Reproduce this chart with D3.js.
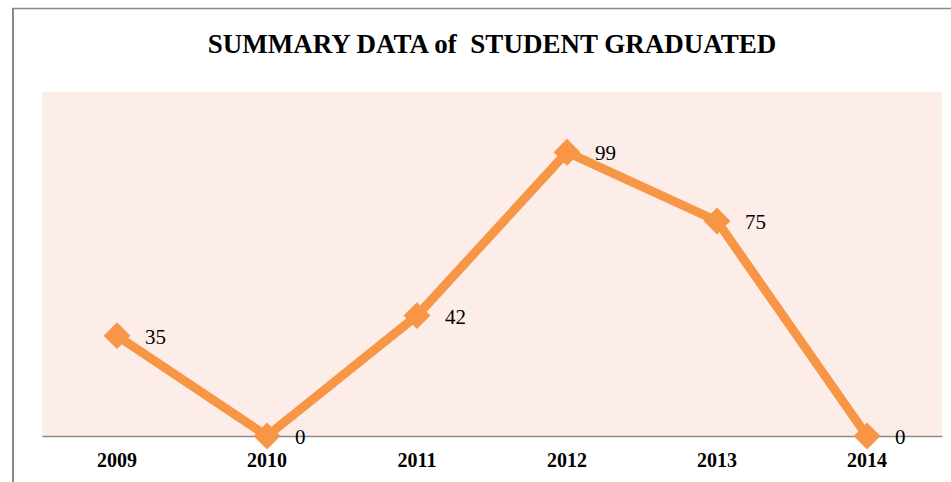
<!DOCTYPE html>
<html>
<head>
<meta charset="utf-8">
<script src="https://cdn.jsdelivr.net/npm/d3@7"></script>
<style>
  body { margin: 0; background: #fff; }
  svg { display: block; }
</style>
</head>
<body>
<svg id="chart" width="951" height="482"></svg>
<script>
const years = ["2009", "2010", "2011", "2012", "2013", "2014"];
const graduated = [35, 0, 42, 99, 75, 0];
const yMax = 120;

const W = 951, H = 482;
const plot = { left: 42, right: 942, top: 92, bottom: 436 };
const orange = "#f79646";
const serif = "'Liberation Serif', 'Times New Roman', serif";

const svg = d3.select("#chart");

// outer frame (only left and top visible in the crop)
svg.append("line")
  .attr("x1", 13).attr("x2", 13).attr("y1", 8).attr("y2", H)
  .attr("stroke", "#888").attr("stroke-width", 2);
svg.append("line")
  .attr("x1", 12).attr("x2", W).attr("y1", 8.5).attr("y2", 8.5)
  .attr("stroke", "#888").attr("stroke-width", 1.5);

svg.append("text")
  .attr("x", 492).attr("y", 53)
  .attr("text-anchor", "middle")
  .style("font-family", serif)
  .style("font-size", "27px").style("font-weight", "bold")
  .style("white-space", "pre")
  .text("SUMMARY DATA of  STUDENT GRADUATED");

const x = d3.scaleBand().domain(years).range([plot.left, plot.right]);
const y = d3.scaleLinear().domain([0, yMax]).range([plot.bottom, plot.top]);

svg.append("rect")
  .attr("x", plot.left).attr("y", plot.top)
  .attr("width", plot.right - plot.left).attr("height", plot.bottom - plot.top)
  .attr("fill", "#fcede8");

const xAxis = svg.append("g")
  .attr("transform", `translate(0,${plot.bottom})`)
  .call(d3.axisBottom(x).tickSize(0).tickPadding(17));
xAxis.select(".domain").attr("stroke", "#8c8c8c").attr("stroke-width", 1.5);
xAxis.selectAll("text")
  .style("font-family", serif)
  .style("font-size", "20px").style("font-weight", "bold").attr("fill", "#000");

const pts = years.map((yr, i) => ({ x: x(yr) + x.bandwidth() / 2, y: y(graduated[i]), v: graduated[i] }));

svg.append("path")
  .datum(pts)
  .attr("fill", "none")
  .attr("stroke", orange)
  .attr("stroke-width", 9)
  .attr("stroke-linejoin", "miter")
  .attr("d", d3.line().x(d => d.x).y(d => d.y));

svg.selectAll(".mk")
  .data(pts)
  .join("rect")
  .attr("class", "mk")
  .attr("x", -9.5).attr("y", -9.5)
  .attr("width", 19).attr("height", 19)
  .attr("fill", orange)
  .attr("transform", d => `translate(${d.x},${d.y}) rotate(45)`);

svg.selectAll(".lbl")
  .data(pts)
  .join("text")
  .attr("class", "lbl")
  .attr("x", d => d.x + 28)
  .attr("y", d => d.y + 8)
  .style("font-family", serif)
  .style("font-size", "21px")
  .attr("fill", "#000")
  .text(d => d.v);
</script>
</body>
</html>
